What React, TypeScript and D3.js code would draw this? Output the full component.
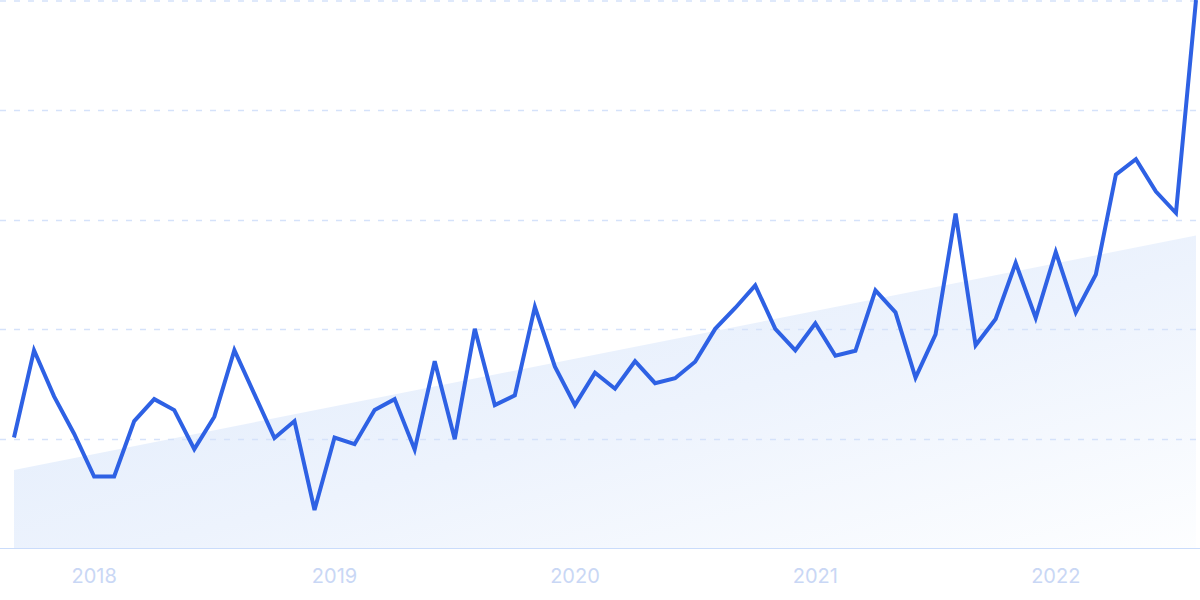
import React from "react";
import * as d3 from "d3";

const values: number[] = [
  20.3, 36.2, 27.8, 21.0, 13.2, 13.2, 23.3, 27.3, 25.3, 18.2,
  24.1, 36.2, 28.2, 20.2, 23.3, 7.1, 20.3, 19.1, 25.3, 27.3,
  18.1, 34.2, 20.0, 40.1, 26.2, 28.0, 44.1, 33.2, 26.2, 32.1,
  29.2, 34.2, 30.2, 31.1, 34.1, 40.1, 43.9, 48.0, 40.1, 36.2,
  41.1, 35.2, 36.1, 47.1, 43.1, 31.2, 39.1, 61.1, 37.1, 41.9,
  52.1, 42.1, 54.1, 43.1, 50.0, 68.2, 71.0, 65.1, 61.2, 100,
];
const yearLabels: string[] = ["2018", "2019", "2020", "2021", "2022"];
const yearLabelIndex: number[] = [4, 16, 28, 40, 52];
const trendValues: number[] = [14.4, 57.1];
const gridTicks: number[] = [20, 40, 60, 80, 100];

const W = 1200;
const H = 600;

export default function App() {
  const x = d3.scaleLinear().domain([0, values.length - 1]).range([14, 1196]);
  const y = d3.scaleLinear().domain([0, 100]).range([549, 0]);

  const line = d3
    .line<number>()
    .x((_, i) => x(i))
    .y((d) => y(d))
    .curve(d3.curveLinear);

  const lastIdx = values.length - 1;
  const trendArea = d3
    .area<number>()
    .x((d) => x(d))
    .y0(() => y(0))
    .y1((d) => y(trendValues[0] + ((trendValues[1] - trendValues[0]) * d) / lastIdx));

  return (
    <div style={{ position: "fixed", left: 0, top: 0 }}>
      <svg width={W} height={H} style={{ display: "block", background: "#fff" }}>
        <defs>
          <linearGradient id="areaGrad" x1="0" y1="0" x2="1" y2="1">
            <stop offset="0%" stopColor="#deeafb" />
            <stop offset="55%" stopColor="#edf3fd" />
            <stop offset="100%" stopColor="#fdfeff" />
          </linearGradient>
        </defs>
        <path d={trendArea([0, lastIdx]) || ""} fill="url(#areaGrad)" />
        {gridTicks.map((t) => (
          <line
            key={t}
            x1={0}
            x2={W}
            y1={Math.max(1, Math.round(y(t)) + 0.5)}
            y2={Math.max(1, Math.round(y(t)) + 0.5)}
            stroke="#d5e2fa"
            strokeWidth={1.5}
            strokeDasharray="6 8"
          />
        ))}
        <line x1={0} x2={W} y1={548.5} y2={548.5} stroke="#cadcfb" strokeWidth={1.2} />
        <path
          d={line(values) || ""}
          fill="none"
          stroke="#2e61e4"
          strokeWidth={4}
          strokeLinejoin="miter"
          strokeLinecap="butt"
        />
        {yearLabels.map((lab, k) => (
          <text
            key={lab}
            x={x(yearLabelIndex[k])}
            y={583}
            textAnchor="middle"
            fontFamily="Inter, 'Noto Sans', sans-serif"
            fontSize={20}
            fill="#c9d7f5"
          >
            {lab}
          </text>
        ))}
      </svg>
    </div>
  );
}
